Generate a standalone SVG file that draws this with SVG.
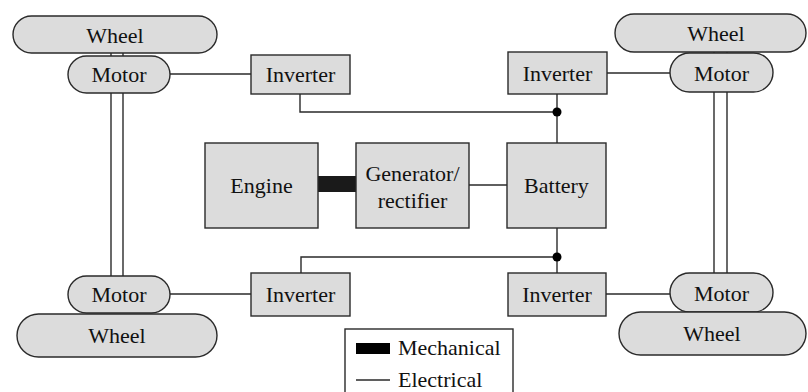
<svg xmlns="http://www.w3.org/2000/svg" width="808" height="392" viewBox="0 0 808 392" font-family="'Liberation Serif', serif" font-size="22">
  <style>
    .box { fill: #dcdcdc; stroke: #2a2a2a; stroke-width: 1.4; }
    .wire { fill: none; stroke: #2a2a2a; stroke-width: 1.4; }
  </style>
  <rect width="808" height="392" fill="#ffffff"/>

  <!-- connectors -->
  <g id="connectors">
    <!-- shafts between motors -->
    <line class="wire" x1="111" y1="53" x2="111" y2="276"/>
    <line class="wire" x1="123" y1="53" x2="123" y2="276"/>
    <line class="wire" x1="714" y1="52" x2="714" y2="273"/>
    <line class="wire" x1="727" y1="52" x2="727" y2="273"/>
    <!-- motor to inverter -->
    <line class="wire" x1="170" y1="74" x2="251" y2="74"/>
    <line class="wire" x1="607" y1="73" x2="670" y2="73"/>
    <line class="wire" x1="170" y1="294" x2="251" y2="294"/>
    <line class="wire" x1="606" y1="294" x2="670" y2="294"/>
    <!-- DC bus -->
    <polyline class="wire" points="300,94 300,112 557,112"/>
    <line class="wire" x1="557" y1="94" x2="557" y2="143"/>
    <polyline class="wire" points="301,273 301,257 557,257"/>
    <line class="wire" x1="557" y1="228" x2="557" y2="273"/>
    <circle cx="557" cy="112" r="4.5" fill="#000"/>
    <circle cx="557" cy="257" r="4.5" fill="#000"/>
    <!-- generator to battery -->
    <line class="wire" x1="469" y1="185" x2="507" y2="185"/>
    <!-- engine to generator (mechanical) -->
    <rect x="318" y="176" width="38" height="16" fill="#1a1a1a"/>
  </g>

  <!-- top-left corner -->
  <g id="wheel-tl"><rect class="box" x="13" y="16" width="204" height="37" rx="18.5"/><text x="115" y="43" font-family="Liberation Serif" font-size="22" text-anchor="middle" fill="#111">Wheel</text></g>
  <g id="motor-tl"><rect class="box" x="68" y="56" width="102" height="37" rx="18.5"/><text x="119" y="82" font-family="Liberation Serif" font-size="22" text-anchor="middle" fill="#111">Motor</text></g>
  <g id="inverter-tl"><rect class="box" x="251" y="55" width="99" height="39"/><text x="300.5" y="82" font-family="Liberation Serif" font-size="22" text-anchor="middle" fill="#111">Inverter</text></g>

  <!-- top-right corner -->
  <g id="wheel-tr"><rect class="box" x="615" y="14" width="191" height="38" rx="19"/><text x="716" y="41" font-family="Liberation Serif" font-size="22" text-anchor="middle" fill="#111">Wheel</text></g>
  <g id="motor-tr"><rect class="box" x="670" y="53" width="103" height="39" rx="19.5"/><text x="721.5" y="81" font-family="Liberation Serif" font-size="22" text-anchor="middle" fill="#111">Motor</text></g>
  <g id="inverter-tr"><rect class="box" x="508" y="52" width="99" height="42"/><text x="557.5" y="81" font-family="Liberation Serif" font-size="22" text-anchor="middle" fill="#111">Inverter</text></g>

  <!-- centre -->
  <g id="engine"><rect class="box" x="205" y="143" width="113" height="85"/><text x="261.5" y="193" font-family="Liberation Serif" font-size="22" text-anchor="middle" fill="#111">Engine</text></g>
  <g id="generator"><rect class="box" x="356" y="143" width="113" height="85"/><text x="412.5" y="181" font-family="Liberation Serif" font-size="22" text-anchor="middle" fill="#111">Generator/</text><text x="412.5" y="208" font-family="Liberation Serif" font-size="22" text-anchor="middle" fill="#111">rectifier</text></g>
  <g id="battery"><rect class="box" x="507" y="143" width="99" height="85"/><text x="556.5" y="193" font-family="Liberation Serif" font-size="22" text-anchor="middle" fill="#111">Battery</text></g>

  <!-- bottom-left corner -->
  <g id="motor-bl"><rect class="box" x="68" y="276" width="102" height="37" rx="18.5"/><text x="119" y="302" font-family="Liberation Serif" font-size="22" text-anchor="middle" fill="#111">Motor</text></g>
  <g id="wheel-bl"><rect class="box" x="17" y="314" width="200" height="43" rx="21.5"/><text x="117" y="343" font-family="Liberation Serif" font-size="22" text-anchor="middle" fill="#111">Wheel</text></g>
  <g id="inverter-bl"><rect class="box" x="251" y="273" width="99" height="43"/><text x="300.5" y="302" font-family="Liberation Serif" font-size="22" text-anchor="middle" fill="#111">Inverter</text></g>

  <!-- bottom-right corner -->
  <g id="inverter-br"><rect class="box" x="508" y="273" width="98" height="43"/><text x="557" y="302" font-family="Liberation Serif" font-size="22" text-anchor="middle" fill="#111">Inverter</text></g>
  <g id="motor-br"><rect class="box" x="670" y="273" width="103" height="39" rx="19.5"/><text x="721.5" y="301" font-family="Liberation Serif" font-size="22" text-anchor="middle" fill="#111">Motor</text></g>
  <g id="wheel-br"><rect class="box" x="619" y="312" width="187" height="43" rx="21.5"/><text x="712" y="341" font-family="Liberation Serif" font-size="22" text-anchor="middle" fill="#111">Wheel</text></g>

  <!-- legend -->
  <g id="legend">
    <rect x="345" y="329" width="168" height="80" fill="#ffffff" stroke="#2a2a2a" stroke-width="1.4"/>
    <rect x="356" y="343" width="34" height="11" fill="#000"/>
    <text x="398" y="355" font-family="Liberation Serif" font-size="22" fill="#111">Mechanical</text>
    <line class="wire" x1="356" y1="380" x2="390" y2="380"/>
    <text x="398" y="387" font-family="Liberation Serif" font-size="22" fill="#111">Electrical</text>
  </g>
</svg>
